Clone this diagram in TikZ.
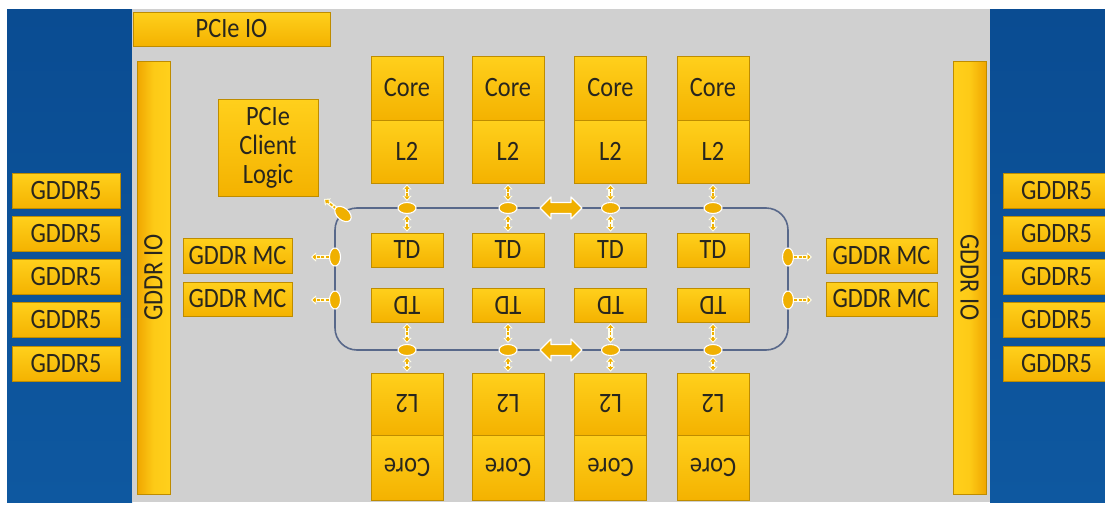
\documentclass[tikz,border=0pt]{standalone}
\usepackage{fontspec}
\setmainfont{Carlito}[FakeStretch=0.87]
\usetikzlibrary{shapes.geometric,arrows.meta}
\definecolor{bgblue}{RGB}{10,76,146}
\definecolor{bgblued}{RGB}{14,88,160}
\definecolor{chipgray}{RGB}{208,208,208}
\definecolor{yl}{RGB}{255,208,28}
\definecolor{yd}{RGB}{244,178,0}
\definecolor{yo}{RGB}{240,166,0}
\definecolor{yb}{RGB}{190,140,0}
\definecolor{txtc}{RGB}{40,38,30}
\definecolor{ringc}{RGB}{88,104,138}
\definecolor{ovc}{RGB}{240,176,0}
\newcommand\myDArrow[2]{\draw[warrD] #1 -- #2; \draw[yarrD] #1 -- #2;}
\newcommand\mySArrow[2]{\draw[warrS] #1 -- #2; \draw[yarrS] #1 -- #2;}
\newcommand\myFatArrow[1]{\draw[fatarr, shift={#1}] (-21,0) -- (-10,-11) -- (-10,-5.5) -- (10,-5.5) -- (10,-11) -- (21,0) -- (10,11) -- (10,5.5) -- (-10,5.5) -- (-10,11) -- cycle;}
\begin{document}
\begin{tikzpicture}[x=1pt,y=-1pt,
  ybox/.style={draw=yb, line width=0.8pt, top color=yl, bottom color=yd,
    text=txtc, font=\fontsize{28}{29}\selectfont, inner sep=0pt, align=center},
  barL/.style={ybox, left color=yo, right color=yl, middle color=yl!80!yd},
  barR/.style={ybox, left color=yl, right color=yo, middle color=yl!80!yd},
  oval/.style={ellipse, fill=ovc, draw=white, line width=1.1pt, inner sep=0pt,
    minimum width=18pt, minimum height=11pt},
  voval/.style={ellipse, fill=ovc, draw=white, line width=1.1pt, inner sep=0pt,
    minimum width=11pt, minimum height=18pt},
  fatarr/.style={fill=ovc, draw=white, line width=1.2pt, line join=round},
  warrD/.style={draw=white!92!yellow, line width=4.2pt, {Triangle[length=5pt,width=9pt]}-{Triangle[length=5pt,width=9pt]}, shorten <=1pt, shorten >=1pt},
  yarrD/.style={draw=ovc, line width=1.8pt, dash pattern=on 3pt off 1.5pt, {Triangle[length=3pt,width=5pt]}-{Triangle[length=3pt,width=5pt]}, shorten <=2.5pt, shorten >=2.5pt},
  warrS/.style={draw=white!92!yellow, line width=4.2pt, -{Triangle[length=5pt,width=9pt]}},
  yarrS/.style={draw=ovc, line width=1.8pt, dash pattern=on 3pt off 1.5pt, -{Triangle[length=3pt,width=5pt]}, shorten >=1.5pt},
  ringline/.style={draw=ringc, line width=1.6pt, rounded corners=22pt, inner sep=0pt}
]
\useasboundingbox (0,0) rectangle (1105,506);
\fill[white] (0,0) rectangle (1105,506);
% background panels
\shade[top color=bgblue, bottom color=bgblued] (7,9) rectangle (132,502);
\shade[top color=bgblue, bottom color=bgblued] (990,9) rectangle (1105,502);
\fill[chipgray] (132,9) rectangle (990,502);

% PCIe IO
\node[ybox, minimum width=197pt, minimum height=34pt] (pcieio) at (231.5,29) {PCIe IO};
% GDDR IO bars
\node[barL, minimum width=33pt, minimum height=433pt] (gioL) at (153.5,277.5) {\rotatebox[origin=c]{90}{GDDR IO}};
\node[barR, minimum width=33pt, minimum height=433pt] (gioR) at (969.5,277.5) {\rotatebox[origin=c]{-90}{GDDR IO}};
% GDDR5 memories
\foreach \i/\y in {1/191,2/234,3/277,4/320,5/364}{
  \node[ybox, minimum width=108pt, minimum height=35pt] (memL\i) at (66,\y) {GDDR5};
  \node[ybox, minimum width=107pt, minimum height=35pt] (memR\i) at (1056.5,\y) {GDDR5};
}
% PCIe client logic
\node[ybox, minimum width=100pt, minimum height=97pt] (pcl) at (268,147.5) {PCIe\\Client\\Logic};
% GDDR MC
\node[ybox, minimum width=109pt, minimum height=35pt] (mcL1) at (237.5,255.5) {GDDR MC};
\node[ybox, minimum width=109pt, minimum height=34pt] (mcL2) at (237.5,299) {GDDR MC};
\node[ybox, minimum width=111pt, minimum height=35pt] (mcR1) at (881.5,255.5) {GDDR MC};
\node[ybox, minimum width=111pt, minimum height=34pt] (mcR2) at (881.5,299) {GDDR MC};

% ring
\node[ringline, minimum width=453pt, minimum height=142pt] (ring) at (561.5,279) {};

% columns
\foreach \i/\x in {1/407,2/508,3/610.5,4/713}{
  \node[ybox, minimum width=72pt, minimum height=64pt] (coreT\i) at (\x,88) {Core};
  \node[ybox, minimum width=72pt, minimum height=63pt] (l2T\i) at (\x,151.5) {L2};
  \node[ybox, minimum width=72pt, minimum height=34pt] (tdT\i) at (\x,250) {TD};
  \node[ybox, minimum width=72pt, minimum height=34pt] (tdB\i) at (\x,305) {\rotatebox[origin=c]{180}{TD}};
  \node[ybox, minimum width=72pt, minimum height=62pt] (l2B\i) at (\x,404) {\rotatebox[origin=c]{180}{L2}};
  \node[ybox, minimum width=72pt, minimum height=65pt] (coreB\i) at (\x,467.5) {\rotatebox[origin=c]{180}{Core}};
  \node[oval] (ovT\i) at (\x,208) {};
  \node[oval] (ovB\i) at (\x,350) {};
  \myDArrow{(l2T\i.south)}{(ovT\i.north)}
  \myDArrow{(ovT\i.south)}{(tdT\i.north)}
  \myDArrow{(tdB\i.south)}{(ovB\i.north)}
  \myDArrow{(ovB\i.south)}{(l2B\i.north)}
}
% big ring arrows
\coordinate (bigT) at (561,208);
\coordinate (bigB) at (561,350);
\myFatArrow{(bigT)}
\myFatArrow{(bigB)}

% side stops
\node[voval] (ovL1) at (335,257) {};
\node[voval] (ovL2) at (335,300) {};
\node[voval] (ovR1) at (788,257) {};
\node[voval] (ovR2) at (788,300) {};
\coordinate (eL1) at (311,257);
\coordinate (eL2) at (311,300);
\coordinate (eR1) at (812,257);
\coordinate (eR2) at (812,300);
\mySArrow{(ovL1.west)}{(eL1)}
\mySArrow{(ovL2.west)}{(eL2)}
\mySArrow{(ovR1.east)}{(eR1)}
\mySArrow{(ovR2.east)}{(eR2)}

% PCIe client stop
\coordinate (eP) at (324,199);
\coordinate (cP) at (343,214);
\mySArrow{(cP)}{(eP)}
\node[oval, rotate=-40, minimum width=19pt, minimum height=12pt] (ovP) at (cP) {};
\end{tikzpicture}
\end{document}
